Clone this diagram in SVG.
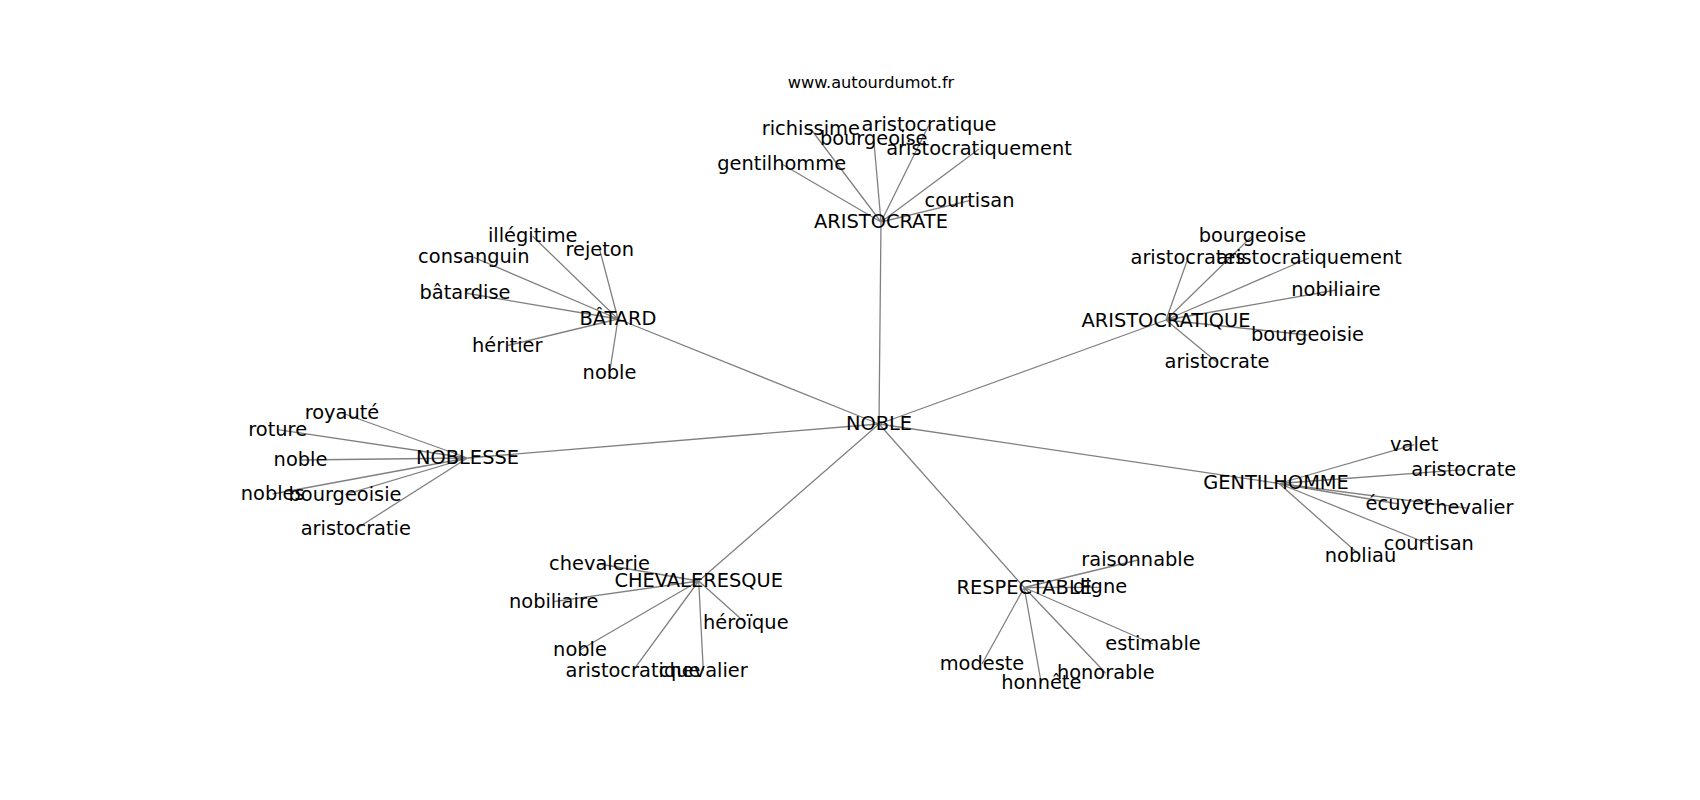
<svg xmlns="http://www.w3.org/2000/svg" width="1700" height="800" viewBox="0 0 1700 800">
<style>
.e{stroke:#808080;stroke-width:1.3;fill:none}
text{font-family:"DejaVu Sans","Liberation Sans",sans-serif;font-size:19.4px;fill:#000;text-anchor:middle}
.t{font-size:16.2px}
</style>
<rect width="1700" height="800" fill="#fff"/>
<text class="t" x="871" y="88">www.autourdumot.fr</text>
<g id="edges" class="e">
<path d="M879,424L881,222M879,424L1166,320M879,424L618,319M879,424L467.5,458M879,424L698.7,581M879,424L1024.2,587.5M879,424L1279,483.5"/>
<path d="M881,222L810.8,129M881,222L929,124.7M881,222L873.7,139M881,222L979,149M881,222L781.7,164M881,222L969.5,200.7"/>
<path d="M1166,320L1252.5,235.7M1166,320L1188,258.3M1166,320L1309,258M1166,320L1336,290M1166,320L1307.5,335M1166,320L1217,362.3"/>
<path d="M618,319L532.7,236.3M618,319L599.7,249.7M618,319L473.8,257.3M618,319L465,293M618,319L507.2,345.7M618,319L609.5,373.3"/>
<path d="M467.5,458L342,413M467.5,458L277.7,429.7M467.5,458L300.5,460M467.5,458L272.7,494M467.5,458L345,494.7M467.5,458L355.8,529"/>
<path d="M698.7,581L599.5,564M698.7,581L553.7,601.7M698.7,581L745.8,623.3M698.7,581L580,650M698.7,581L633,670.7M698.7,581L703.3,670.7"/>
<path d="M1024.2,587.5L1138,560M1024.2,587.5L1100,587.3M1024.2,587.5L1153,644M1024.2,587.5L982,664M1024.2,587.5L1105.8,673.3M1024.2,587.5L1041.3,683.3"/>
<path d="M1279,483.5L1414.2,444.7M1279,483.5L1463.8,469.7M1279,483.5L1398.7,504M1279,483.5L1469,508.3M1279,483.5L1428.8,544M1279,483.5L1360.5,555.7"/>
</g>
<g id="n-noble"><text x="879" y="430">NOBLE</text></g>
<g id="n-aristocrate"><text x="881" y="228">ARISTOCRATE</text></g>
<g id="n-aristocrate-richissime"><text x="810.8" y="135">richissime</text></g>
<g id="n-aristocrate-aristocratique"><text x="929" y="130.7">aristocratique</text></g>
<g id="n-aristocrate-bourgeoise"><text x="873.7" y="145">bourgeoise</text></g>
<g id="n-aristocrate-aristocratiquement"><text x="979" y="155">aristocratiquement</text></g>
<g id="n-aristocrate-gentilhomme"><text x="781.7" y="170">gentilhomme</text></g>
<g id="n-aristocrate-courtisan"><text x="969.5" y="206.7">courtisan</text></g>
<g id="n-aristocratique"><text x="1166" y="326.5">ARISTOCRATIQUE</text></g>
<g id="n-aristocratique-bourgeoise"><text x="1252.5" y="241.7">bourgeoise</text></g>
<g id="n-aristocratique-aristocrates"><text x="1188" y="264.3">aristocrates</text></g>
<g id="n-aristocratique-aristocratiquement"><text x="1309" y="264">aristocratiquement</text></g>
<g id="n-aristocratique-nobiliaire"><text x="1336" y="296">nobiliaire</text></g>
<g id="n-aristocratique-bourgeoisie"><text x="1307.5" y="341">bourgeoisie</text></g>
<g id="n-aristocratique-aristocrate"><text x="1217" y="368.3">aristocrate</text></g>
<g id="n-batard"><text x="618" y="325">BÂTARD</text></g>
<g id="n-batard-illegitime"><text x="532.7" y="242.3">illégitime</text></g>
<g id="n-batard-rejeton"><text x="599.7" y="255.7">rejeton</text></g>
<g id="n-batard-consanguin"><text x="473.8" y="263.3">consanguin</text></g>
<g id="n-batard-batardise"><text x="465" y="299">bâtardise</text></g>
<g id="n-batard-heritier"><text x="507.2" y="351.7">héritier</text></g>
<g id="n-batard-noble"><text x="609.5" y="379.3">noble</text></g>
<g id="n-noblesse"><text x="467.5" y="464">NOBLESSE</text></g>
<g id="n-noblesse-royaute"><text x="342" y="419">royauté</text></g>
<g id="n-noblesse-roture"><text x="277.7" y="435.7">roture</text></g>
<g id="n-noblesse-noble"><text x="300.5" y="466">noble</text></g>
<g id="n-noblesse-nobles"><text x="272.7" y="500">nobles</text></g>
<g id="n-noblesse-bourgeoisie"><text x="345" y="500.7">bourgeoisie</text></g>
<g id="n-noblesse-aristocratie"><text x="355.8" y="535">aristocratie</text></g>
<g id="n-chevaleresque"><text x="698.7" y="587">CHEVALERESQUE</text></g>
<g id="n-chevaleresque-chevalerie"><text x="599.5" y="570">chevalerie</text></g>
<g id="n-chevaleresque-nobiliaire"><text x="553.7" y="607.7">nobiliaire</text></g>
<g id="n-chevaleresque-heroique"><text x="745.8" y="629.3">héroïque</text></g>
<g id="n-chevaleresque-noble"><text x="580" y="656">noble</text></g>
<g id="n-chevaleresque-aristocratique"><text x="633" y="676.7">aristocratique</text></g>
<g id="n-chevaleresque-chevalier"><text x="703.3" y="676.7">chevalier</text></g>
<g id="n-respectable"><text x="1024.2" y="593.5">RESPECTABLE</text></g>
<g id="n-respectable-raisonnable"><text x="1138" y="566">raisonnable</text></g>
<g id="n-respectable-digne"><text x="1100" y="593.3">digne</text></g>
<g id="n-respectable-estimable"><text x="1153" y="650">estimable</text></g>
<g id="n-respectable-modeste"><text x="982" y="670">modeste</text></g>
<g id="n-respectable-honorable"><text x="1105.8" y="679.3">honorable</text></g>
<g id="n-respectable-honnete"><text x="1041.3" y="689.3">honnête</text></g>
<g id="n-gentilhomme"><text x="1276" y="489.3">GENTILHOMME</text></g>
<g id="n-gentilhomme-valet"><text x="1414.2" y="450.7">valet</text></g>
<g id="n-gentilhomme-aristocrate"><text x="1463.8" y="475.7">aristocrate</text></g>
<g id="n-gentilhomme-ecuyer"><text x="1398.7" y="510">écuyer</text></g>
<g id="n-gentilhomme-chevalier"><text x="1469" y="514.3">chevalier</text></g>
<g id="n-gentilhomme-courtisan"><text x="1428.8" y="550">courtisan</text></g>
<g id="n-gentilhomme-nobliau"><text x="1360.5" y="561.7">nobliau</text></g>
</svg>
